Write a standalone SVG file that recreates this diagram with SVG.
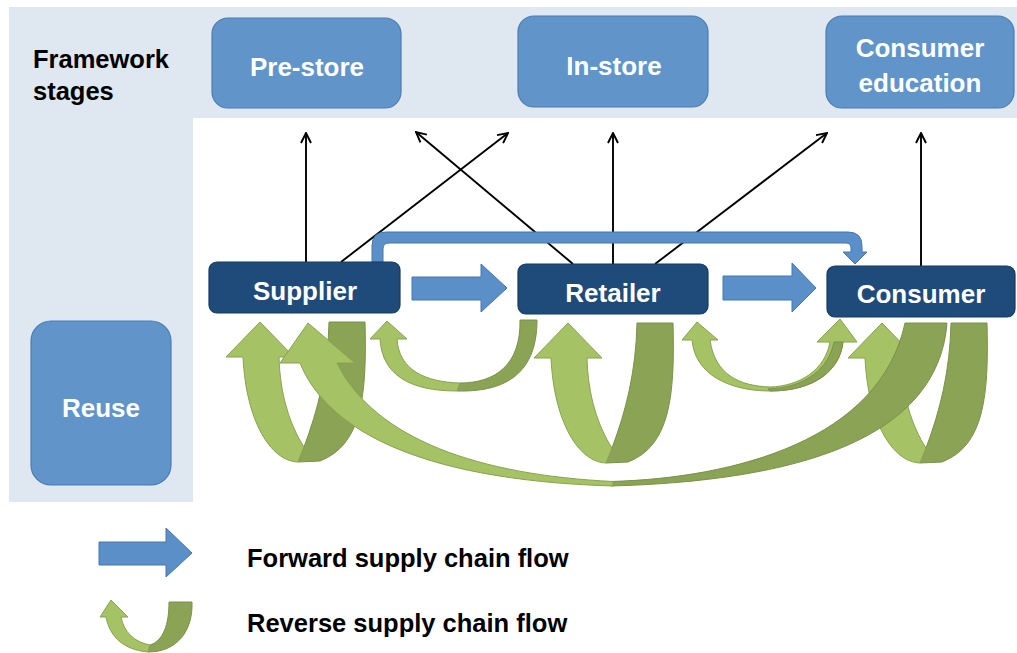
<svg xmlns="http://www.w3.org/2000/svg" width="1017" height="653" viewBox="0 0 1017 653">
  <defs>
    <style>
      text { font-family: "Liberation Sans", Arial, sans-serif; font-weight: bold; }
      .stage { fill: #6194c9; stroke: #4b7cb2; stroke-width: 1.2; }
      .actor { fill: #1f4b7a; stroke: #163a60; stroke-width: 1.2; }
      .box-label { fill: #ffffff; font-size: 26px; text-anchor: middle; }
      .side-label { fill: #000000; font-size: 25.5px; }
      .link { stroke: #000000; stroke-width: 1.9; fill: none; marker-end: url(#open-head); }
      .flow { fill: #5b8fc8; stroke: #4777ae; stroke-width: 1; }
      .g-light { fill: #a5c265; stroke: #88a250; stroke-width: 1; stroke-linejoin: round; }
      .g-dark { fill: #8ba355; stroke: #7a9247; stroke-width: 1; stroke-linejoin: round; }
    </style>
    <marker id="open-head" viewBox="0 0 12 12" refX="11" refY="6" markerWidth="12" markerHeight="12" markerUnits="userSpaceOnUse" orient="auto">
      <path d="M1,1 L11,6 L1,11" fill="none" stroke="#000000" stroke-width="1.9"/>
    </marker>
    <!-- U-turn ribbon returning to the same actor: dark back face, light front face with head -->
    <g id="self-loop">
      <path class="g-dark" d="M329,322 H365 C367,395 362,445 320,461 L298,462 L304,447 C318,410 328,370 329,322 Z"/>
      <path class="g-light" d="M243,357 H226 L260,322 L294,357 H279 C280,395 290,425 304,447 L298,462 C270,461 246,420 243,357 Z"/>
    </g>
  </defs>

  <rect x="0" y="0" width="1017" height="653" fill="#ffffff"/>
  <!-- stage panel (top band + left column) -->
  <path d="M9,7 H1017 V118 H193 V502 H9 Z" fill="#dfe7f1"/>

  <g id="stage-title">
    <text class="side-label" x="33" y="68">Framework</text>
    <text class="side-label" x="33" y="100">stages</text>
  </g>

  <g id="node-pre-store">
    <rect class="stage" x="212" y="18" width="189" height="90" rx="16"/>
    <text class="box-label" x="307" y="76">Pre-store</text>
  </g>
  <g id="node-in-store">
    <rect class="stage" x="518" y="16" width="190" height="91" rx="16"/>
    <text class="box-label" x="614" y="75">In-store</text>
  </g>
  <g id="node-consumer-education">
    <rect class="stage" x="826" y="16" width="188" height="92" rx="16"/>
    <text class="box-label" x="920" y="57">Consumer</text>
    <text class="box-label" x="920" y="92">education</text>
  </g>
  <g id="node-reuse">
    <rect class="stage" x="31" y="321" width="140" height="164" rx="20"/>
    <text class="box-label" x="101" y="417">Reuse</text>
  </g>

  <g id="connectors">
    <!-- links from actors to framework stages -->
    <line class="link" x1="306" y1="262" x2="306" y2="133"/>
    <line class="link" x1="341" y1="262" x2="508" y2="133"/>
    <line class="link" x1="573" y1="264" x2="416" y2="132"/>
    <line class="link" x1="613" y1="264" x2="613" y2="133"/>
    <line class="link" x1="655" y1="264" x2="827" y2="133"/>
    <line class="link" x1="921" y1="266" x2="921" y2="133"/>

    <!-- forward supply chain flow -->
    <path class="flow" d="M372,262 V246 Q372,232 386,232 H848 Q862,232 862,246 V252 H867 L855,264 L843,252 H851 V248 Q851,243 846,243 H389 Q383,243 383,249 V262 Z"/>
    <path class="flow" d="M412,277 H481 V264 L507,288 L481,312 V300 H412 Z"/>
    <path class="flow" d="M723,276 H792 V263 L816,288 L792,312 V300 H723 Z"/>

    <!-- reverse supply chain flow: self loops -->
    <use href="#self-loop"/>
    <use href="#self-loop" transform="translate(308,1)"/>
    <use href="#self-loop" transform="translate(622,1)"/>

    <!-- retailer back to supplier -->
    <path class="g-dark" d="M457,391 C500,392 537,378 537,320 L520,320 C521,365 495,383 460,383 Z"/>
    <path class="g-light" d="M380,339 H370 L387,321 L407,339 H397 C399,370 425,382 460,383 L457,391 C410,391 382,375 380,339 Z"/>

    <!-- retailer / consumer exchange -->
    <path class="g-light" d="M692,340 H682 L697,322 L718,340 H710 C715,375 740,386 770,387 C800,386 825,370 830,342 H817 L840,319 L857,342 H843 C840,370 815,391 770,391 C730,391 695,375 692,340 Z"/>
    <path class="g-dark" d="M770,391 C815,391 840,370 843,342 L834,342 C829,368 806,388 768,389 Z"/>

    <!-- consumer back to supplier -->
    <path class="g-dark" d="M611,481.5 C735,478 880,440 905,323 L947,323 C938,440 795,481 611,486 Z"/>
    <path class="g-light" d="M300,363 H280 L308,323 L355,363 H337 C375,440 480,475 613,481.5 L613,486 C410,480 325,425 300,363 Z"/>
  </g>

  <g id="node-supplier">
    <rect class="actor" x="209" y="262" width="191" height="51" rx="8"/>
    <text class="box-label" x="305" y="300">Supplier</text>
  </g>
  <g id="node-retailer">
    <rect class="actor" x="518" y="264" width="190" height="50" rx="8"/>
    <text class="box-label" x="613" y="302">Retailer</text>
  </g>
  <g id="node-consumer">
    <rect class="actor" x="827" y="266" width="188" height="51" rx="8"/>
    <text class="box-label" x="921" y="303">Consumer</text>
  </g>

  <g id="legend">
    <path class="flow" d="M99,542 H166 V528 L192,553 L166,577 V565 H99 Z"/>
    <text class="side-label" x="247" y="567">Forward supply chain flow</text>
    <path class="g-dark" d="M169,602 H192 C193,630 178,652 148,652 L150,645 C163,641 169,625 169,602 Z"/>
    <path class="g-light" d="M106,617 H100 L111,600 L128,617 H121 C124,632 134,642 150,645 L148,652 C125,650 110,638 106,617 Z"/>
    <text class="side-label" x="247" y="632">Reverse supply chain flow</text>
  </g>
</svg>
